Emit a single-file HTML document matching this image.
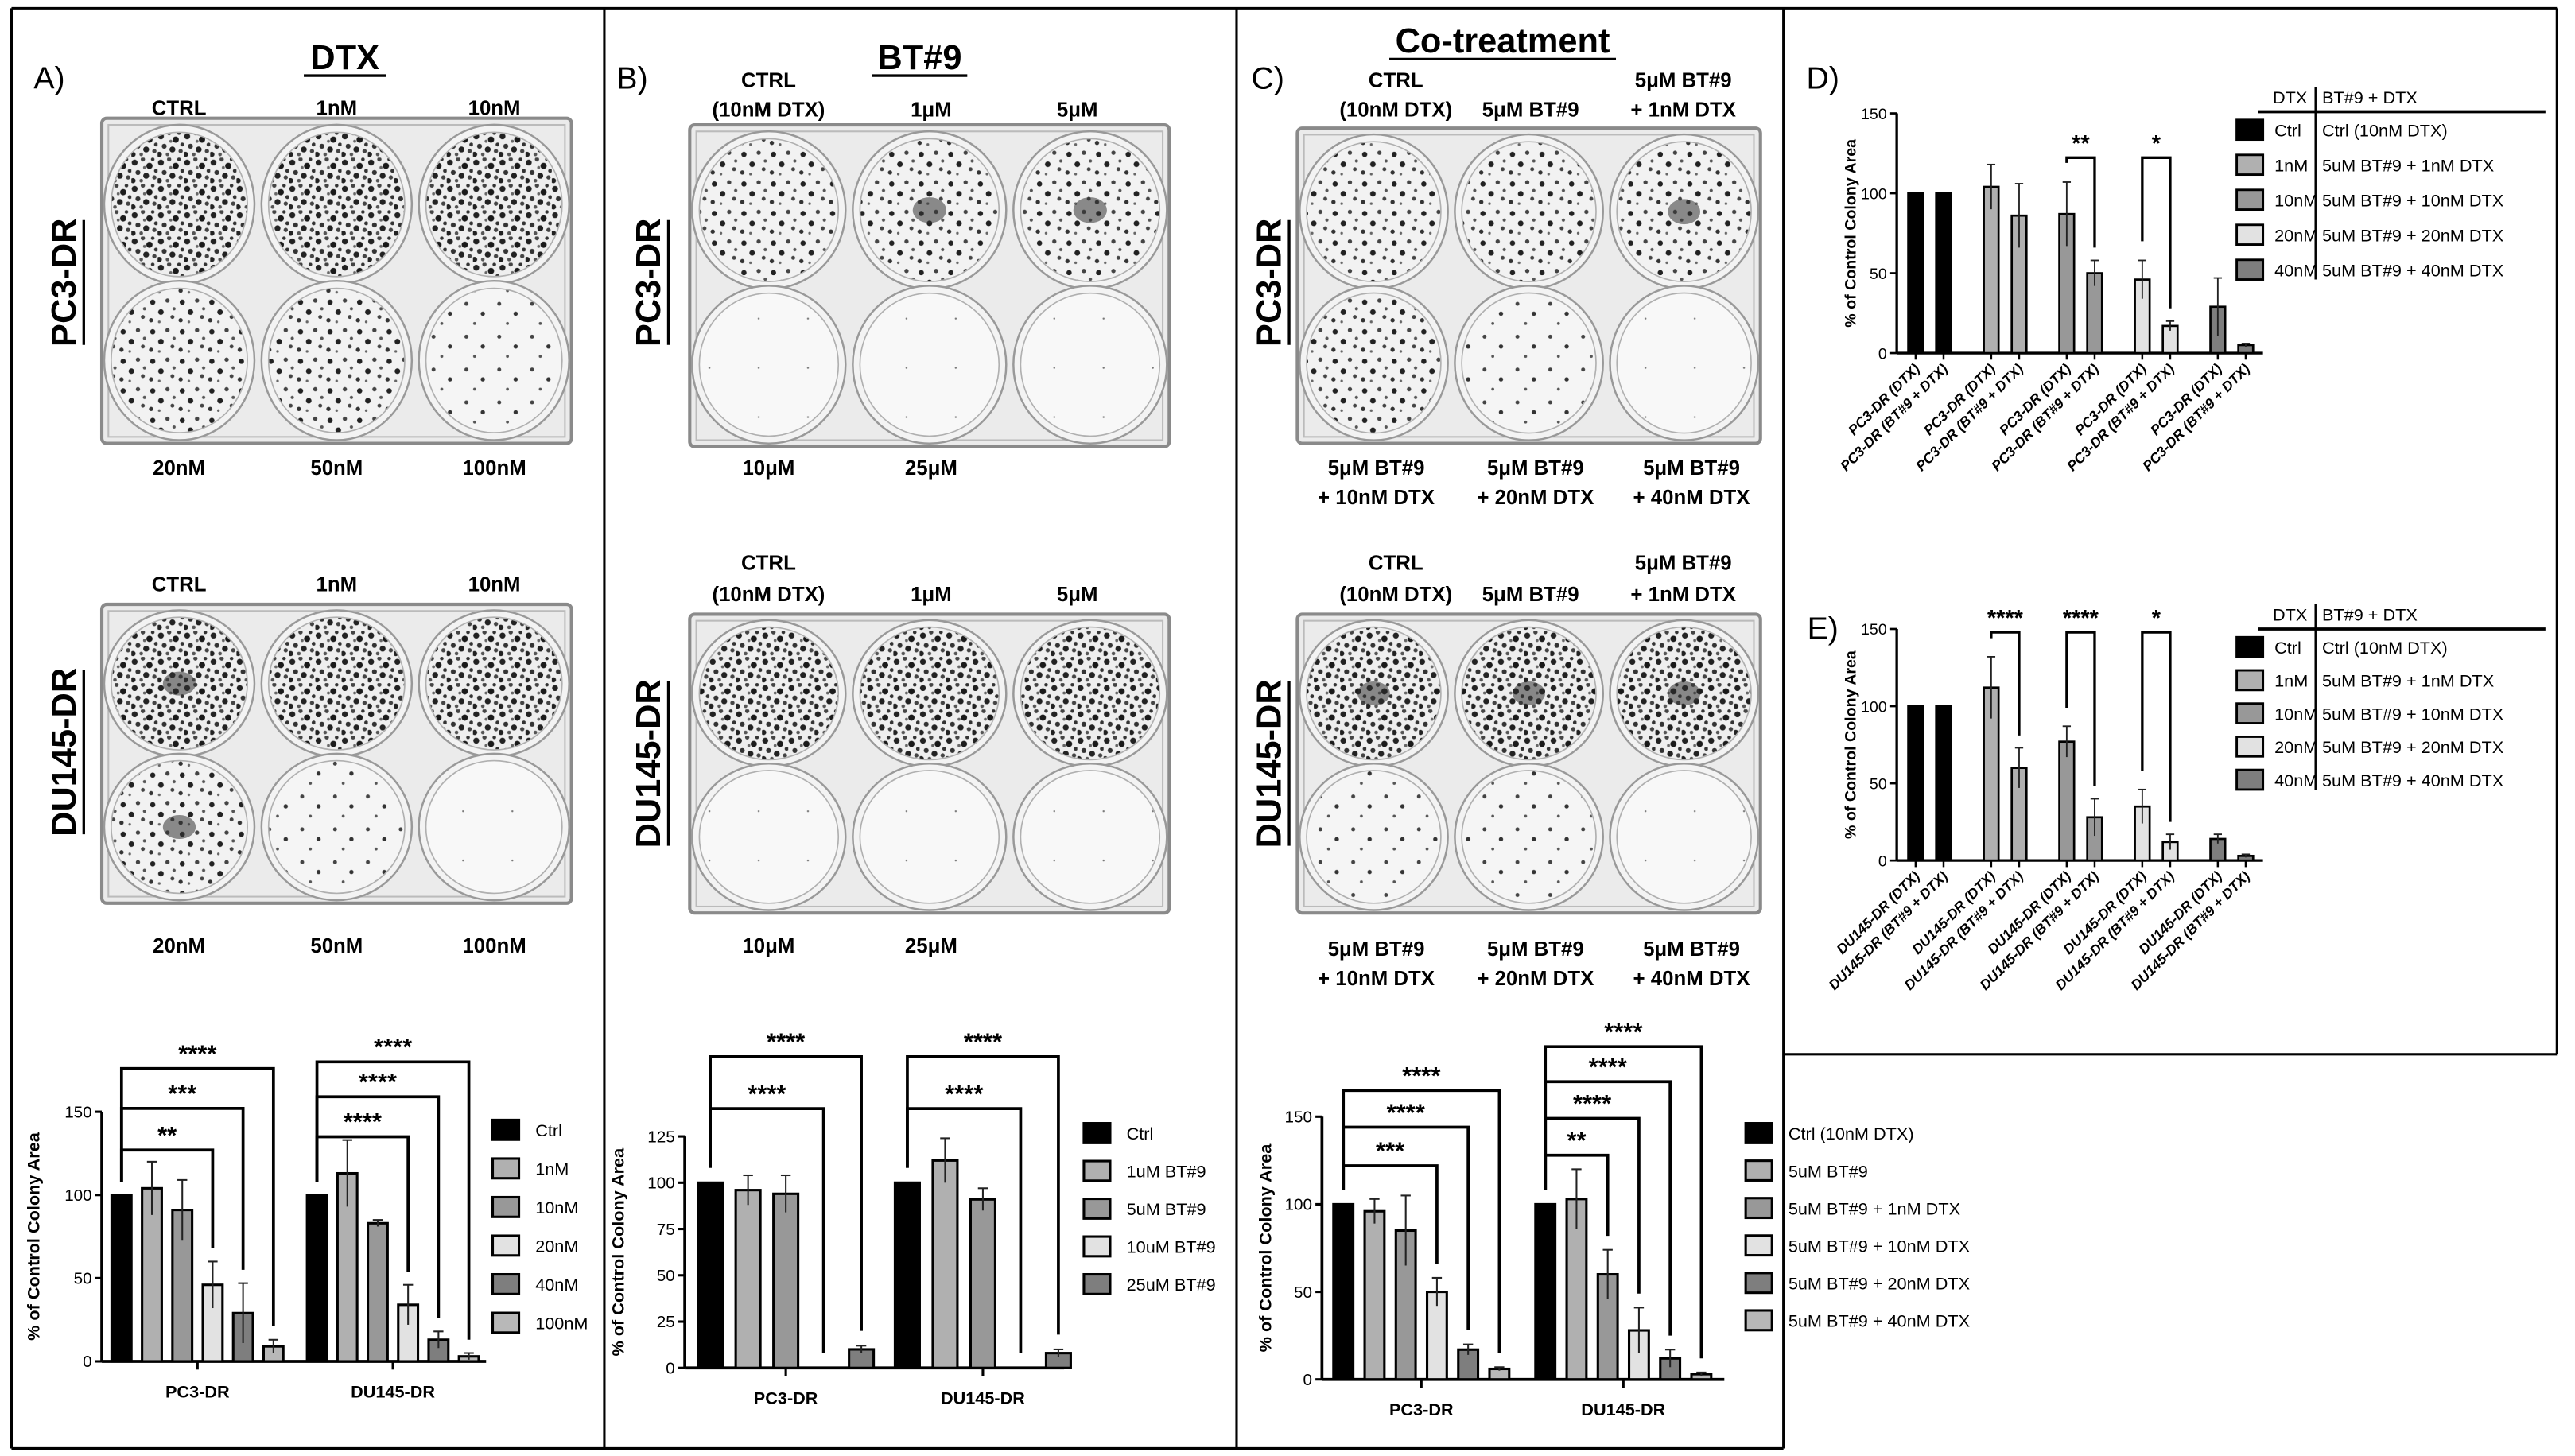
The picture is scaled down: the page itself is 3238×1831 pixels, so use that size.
<!DOCTYPE html>
<html><head><meta charset="utf-8"><style>
html,body{margin:0;padding:0;background:#fff;}
svg{display:block;font-family:"Liberation Sans",Arial,sans-serif;}
</style></head><body>
<svg id="fig" xmlns="http://www.w3.org/2000/svg" width="3238" height="1831" viewBox="0 0 1568 886.6">
<defs>
<pattern id="d3" width="16" height="16" patternUnits="userSpaceOnUse"><rect width="16" height="16" fill="#eeeeee"/><circle cx="2" cy="3" r="1.8" fill="#222"/><circle cx="7" cy="1" r="1.3" fill="#444"/><circle cx="11" cy="5" r="1.9" fill="#1a1a1a"/><circle cx="4" cy="9" r="1.5" fill="#333"/><circle cx="9" cy="11" r="1.8" fill="#222"/><circle cx="14" cy="12" r="1.3" fill="#444"/><circle cx="13" cy="1" r="1.1" fill="#333"/><circle cx="1" cy="14" r="1.6" fill="#222"/><circle cx="6" cy="14" r="1.1" fill="#555"/><circle cx="15" cy="8" r="1.2" fill="#333"/><circle cx="8" cy="6" r="0.9" fill="#666"/></pattern>
<pattern id="d2" width="18" height="18" patternUnits="userSpaceOnUse"><rect width="18" height="18" fill="#f2f2f2"/><circle cx="3" cy="4" r="1.6" fill="#222"/><circle cx="12" cy="3" r="1.3" fill="#444"/><circle cx="8" cy="10" r="1.7" fill="#222"/><circle cx="15" cy="13" r="1.2" fill="#444"/><circle cx="2" cy="15" r="1.3" fill="#333"/><circle cx="16" cy="8" r="1" fill="#555"/><circle cx="7" cy="16" r="0.8" fill="#666"/></pattern>
<pattern id="d1" width="20" height="20" patternUnits="userSpaceOnUse"><rect width="20" height="20" fill="#f5f5f5"/><circle cx="4" cy="5" r="1.2" fill="#444"/><circle cx="14" cy="11" r="1.3" fill="#333"/><circle cx="9" cy="17" r="0.9" fill="#555"/></pattern>
<pattern id="d0" width="30" height="30" patternUnits="userSpaceOnUse"><rect width="30" height="30" fill="#f8f8f8"/><circle cx="12" cy="14" r="0.6" fill="#777"/></pattern>
</defs>
<g id="frame" stroke="#000" stroke-width="1.5" fill="none">
<line x1="7" y1="5" x2="1557" y2="5"/><line x1="7" y1="5" x2="7" y2="882"/><line x1="7" y1="882" x2="1086" y2="882"/>
<line x1="368" y1="5" x2="368" y2="882"/><line x1="753" y1="5" x2="753" y2="882"/><line x1="1086" y1="5" x2="1086" y2="882"/>
<line x1="1557" y1="5" x2="1557" y2="642"/><line x1="1086" y1="642" x2="1557" y2="642"/>
</g>
<g id="static"></g>
<g id="charts"></g>
</svg>
<script>
// ---------- Chart data ----------
const aGroups = ["PC3-DR","DU145-DR"];
const aSeries = ["Ctrl","1nM","10nM","20nM","40nM","100nM"];
const aValues = [[100,104,91,46,29,9],[100,113,83,34,13,3]];
const aErrors = [[0,16,18,14,18,4],[0,20,2,12,5,2]];
const aTicks = [0,50,100,150];
const aSig = [[0,3,127,"**"],[0,4,152,"***"],[0,5,176,"****"],[1,3,135,"****"],[1,4,159,"****"],[1,5,180,"****"]];

const bGroups = ["PC3-DR","DU145-DR"];
const bSeries = ["Ctrl","1uM BT#9","5uM BT#9","10uM BT#9","25uM BT#9"];
const bValues = [[100,96,94,0,10],[100,112,91,0,8]];
const bErrors = [[0,8,10,0,2],[0,12,6,0,2]];
const bTicks = [0,25,50,75,100,125];
const bSig = [[0,3,140,"****"],[0,4,168,"****"],[1,3,140,"****"],[1,4,168,"****"]];

const cGroups = ["PC3-DR","DU145-DR"];
const cSeries = ["Ctrl (10nM DTX)","5uM BT#9","5uM BT#9 + 1nM DTX","5uM BT#9 + 10nM DTX","5uM BT#9 + 20nM DTX","5uM BT#9 + 40nM DTX"];
const cValues = [[100,96,85,50,17,6],[100,103,60,28,12,3]];
const cErrors = [[0,7,20,8,3,1],[0,17,14,13,5,1]];
const cTicks = [0,50,100,150];
const cSig = [[0,3,122,"***"],[0,4,144,"****"],[0,5,165,"****"],[1,2,128,"**"],[1,3,149,"****"],[1,4,170,"****"],[1,5,190,"****"]];

const dCats = ["Ctrl","1nM","10nM","20nM","40nM"];
const dCombo = ["Ctrl (10nM DTX)","5uM BT#9 + 1nM DTX","5uM BT#9 + 10nM DTX","5uM BT#9 + 20nM DTX","5uM BT#9 + 40nM DTX"];
const dDtx = [100,104,87,46,29];
const dDtxErr = [0,14,20,12,18];
const dBt = [100,86,50,17,5];
const dBtErr = [0,20,8,3,1];
const dSig = [[2,"**"],[3,"*"]];

const eDtx = [100,112,77,35,14];
const eDtxErr = [0,20,10,11,3];
const eBt = [100,60,28,12,3];
const eBtErr = [0,13,12,5,1];
const eSig = [[1,"****"],[2,"****"],[3,"*"]];

const fills6 = ["#000","#b0b0b0","#989898","#e2e2e2","#7e7e7e","#b8b8b8"];
const fillsB = ["#000","#b0b0b0","#989898","#e2e2e2","#7e7e7e"];

const NS="http://www.w3.org/2000/svg";
function mk(parent,tag,attrs,txt){const e=document.createElementNS(NS,tag);for(const k in attrs)e.setAttribute(k,attrs[k]);if(txt!==undefined)e.textContent=txt;parent.appendChild(e);return e;}
const S=document.getElementById('static');
const C=document.getElementById('charts');

// ---------- static text ----------
function label(x,y,t,size,name,extra){const e=mk(S,'text',Object.assign({x:x,y:y,'font-size':size,'font-weight':'bold','text-anchor':'middle'},extra||{}),t);

return e;}
label(30,54,"A)",19,"panel-a-letter",{'font-weight':'normal'});
label(385,54,"B)",19,"panel-b-letter",{'font-weight':'normal'});
label(772,54,"C)",19,"panel-c-letter",{'font-weight':'normal'});
label(1110,54,"D)",19,"panel-d-letter",{'font-weight':'normal'});
label(1110,389,"E)",19,"panel-e-letter",{'font-weight':'normal'});
function title(x,y,t,w,name){label(x,y,t,21,name);mk(S,'line',{x1:x-w/2,y1:y+4,x2:x+w/2,y2:y+4,stroke:'#000','stroke-width':1.6});}
title(210,42,"DTX",50,"panel-a-title");
title(560,42,"BT#9",58,"panel-b-title");
title(915,32,"Co-treatment",138,"panel-c-title");
function vlabel(x,cy,t,w,name){label(x,cy,t,21,name,{transform:`rotate(-90 ${x} ${cy})`});mk(S,'line',{x1:x+5,y1:cy-w/2,x2:x+5,y2:cy+w/2,stroke:'#000','stroke-width':1.6});}
vlabel(46,172,"PC3-DR",76,"pc3-label-a");vlabel(46,458,"DU145-DR",100,"du145-label-a");
vlabel(402,172,"PC3-DR",76,"pc3-label-b");vlabel(402,465,"DU145-DR",100,"du145-label-b");
vlabel(780,172,"PC3-DR",76,"pc3-label-c");vlabel(780,465,"DU145-DR",100,"du145-label-c");

// ---------- plates ----------
function plate(x,y,w,h,dens,name,blobs){
 const g=mk(S,'g',{});
 
 
 mk(g,'rect',{x:x,y:y,width:w,height:h,fill:'#ebebeb',stroke:'#8a8a8a','stroke-width':2,rx:3});
 mk(g,'rect',{x:x+4,y:y+4,width:w-8,height:h-8,fill:'none',stroke:'#bbb','stroke-width':1});
 const cx=[0.165,0.5,0.835],cy=[0.265,0.745];
 let k=0;
 for(let r=0;r<2;r++)for(let c=0;c<3;c++){
  const X=x+w*cx[c],Y=y+h*cy[r];
  mk(g,'ellipse',{cx:X,cy:Y,rx:w*0.16,ry:h*0.245,fill:'#f3f3f3',stroke:'#999','stroke-width':1.2});
  mk(g,'ellipse',{cx:X,cy:Y,rx:w*0.145,ry:h*0.222,fill:'url(#d'+dens[k]+')',stroke:'#b0b0b0','stroke-width':0.8});
  if(blobs&&blobs[k]){mk(g,'ellipse',{cx:X,cy:Y,rx:w*0.035,ry:h*0.04,fill:'#333',opacity:0.55});}
  k++;
 }
}
plate(62,72,286,198,[3,3,3,2,2,1],"plate-a-pc3");
plate(62,368,286,182,[3,3,3,2,1,0],"plate-a-du145",[1,0,0,1,0,0]);
plate(420,76,292,196,[2,2,2,0,0,0],"plate-b-pc3",[0,1,1,0,0,0]);
plate(420,374,292,182,[3,3,3,0,0,0],"plate-b-du145");
plate(790,78,282,192,[2,2,2,2,1,0],"plate-c-pc3",[0,0,1,0,0,0]);
plate(790,374,282,182,[3,3,3,1,1,0],"plate-c-du145",[1,1,1,0,0,0]);

function plab(xs,ys,rows,name){rows.forEach((row,ri)=>row.forEach((t,i)=>{if(t)label(xs[i],ys[ri],t,12.5,name+"-"+ri+"-"+i);}));}
const ax=[109,205,301];
plab(ax,[70],[["CTRL","1nM","10nM"]],"plate-a-pc3-top");
plab(ax,[289],[["20nM","50nM","100nM"]],"plate-a-pc3-bottom");
plab(ax,[360],[["CTRL","1nM","10nM"]],"plate-a-du145-top");
plab(ax,[580],[["20nM","50nM","100nM"]],"plate-a-du145-bottom");
const bx=[468,567,656];
plab(bx,[53,71],[["CTRL","",""],["(10nM DTX)","1μM","5μM"]],"plate-b-pc3-top");
plab(bx,[289],[["10μM","25μM",""]],"plate-b-pc3-bottom");
plab(bx,[347,366],[["CTRL","",""],["(10nM DTX)","1μM","5μM"]],"plate-b-du145-top");
plab(bx,[580],[["10μM","25μM",""]],"plate-b-du145-bottom");
const cxs=[850,932,1025];
plab(cxs,[53,71],[["CTRL","","5μM BT#9"],["(10nM DTX)","5μM BT#9","+ 1nM DTX"]],"plate-c-pc3-top");
plab([838,935,1030],[289,307],[["5μM BT#9","5μM BT#9","5μM BT#9"],["+ 10nM DTX","+ 20nM DTX","+ 40nM DTX"]],"plate-c-pc3-bottom");
plab(cxs,[347,366],[["CTRL","","5μM BT#9"],["(10nM DTX)","5μM BT#9","+ 1nM DTX"]],"plate-c-du145-top");
plab([838,935,1030],[582,600],[["5μM BT#9","5μM BT#9","5μM BT#9"],["+ 10nM DTX","+ 20nM DTX","+ 40nM DTX"]],"plate-c-du145-bottom");

// ---------- grouped bar chart ----------
function grouped(cfg){
 const g=mk(C,'g',{});
 
 
 const y=v=>cfg.y0-(v/cfg.ymax)*(cfg.y0-cfg.ytop);
 const bxf=(gi,si)=>cfg.gx0+gi*cfg.gstep+si*cfg.pitch;
 mk(g,'line',{x1:cfg.ax,y1:y(0),x2:cfg.xend,y2:y(0),stroke:'#000','stroke-width':1.8});
 mk(g,'line',{x1:cfg.ax,y1:y(0),x2:cfg.ax,y2:y(cfg.ticks[cfg.ticks.length-1]),stroke:'#000','stroke-width':1.8});
 cfg.ticks.forEach(t=>{mk(g,'line',{x1:cfg.ax-4,y1:y(t),x2:cfg.ax,y2:y(t),stroke:'#000','stroke-width':1.5});
  const tl=mk(g,'text',{x:cfg.ax-6,y:y(t)+3.5,'font-size':10,'text-anchor':'end'},t);
  
  });
 const yt=mk(g,'text',{x:cfg.titleX,y:(y(0)+y(cfg.ticks[cfg.ticks.length-1]))/2,'font-size':10.5,'font-weight':'bold','text-anchor':'middle',transform:`rotate(-90 ${cfg.titleX} ${(y(0)+y(cfg.ticks[cfg.ticks.length-1]))/2})`},"% of Control Colony Area");
 
 
 cfg.groups.forEach((gn,gi)=>{
  const n=cfg.values[gi].length;
  const mid=(bxf(gi,0)+bxf(gi,n-1)+cfg.bw)/2;
  mk(g,'line',{x1:mid,y1:y(0),x2:mid,y2:y(0)+5,stroke:'#000','stroke-width':1.5});
  const gl=mk(g,'text',{x:mid,y:y(0)+22,'font-size':10.5,'font-weight':'bold','text-anchor':'middle'},gn);
  
  
  cfg.values[gi].forEach((v,si)=>{
   const x=bxf(gi,si);
   const r=mk(g,'rect',{x:x,y:y(v),width:cfg.bw,height:y(0)-y(v),fill:cfg.fills[si],stroke:'#000','stroke-width':1.5});
   
   
   const e=cfg.errors[gi][si];
   if(e>0){const cx=x+cfg.bw/2;
    mk(g,'line',{x1:cx,y1:y(v-e),x2:cx,y2:y(v+e),stroke:'#222','stroke-width':1});
    mk(g,'line',{x1:cx-3,y1:y(v+e),x2:cx+3,y2:y(v+e),stroke:'#222','stroke-width':1});}
  });
 });
 cfg.sig.forEach(s=>{const [gi,to,h,t]=s;
  const x1=bxf(gi,0)+cfg.bw/2,x2=bxf(gi,to)+cfg.bw/2;
  const v=cfg.values[gi][to]+cfg.errors[gi][to];
  mk(g,'polyline',{points:`${x1},${y(108)} ${x1},${y(h)} ${x2},${y(h)} ${x2},${y(v+8)}`,fill:'none',stroke:'#000','stroke-width':1.8});
  const st=mk(g,'text',{x:(x1+x2)/2,y:y(h)-4,'font-size':15,'font-weight':'bold','text-anchor':'middle'},t);
  
  
 });
 cfg.series.forEach((sn,si)=>{const ly=cfg.legY+si*cfg.legStep;
  const lr=mk(g,'rect',{x:cfg.legX,y:ly-6,width:16,height:12,fill:cfg.fills[si],stroke:'#000','stroke-width':1.5});
  
  
  const lt=mk(g,'text',{x:cfg.legX+26,y:ly+4,'font-size':10.5},sn);
  
  
 });
}
grouped({name:"chart-a",groups:aGroups,series:aSeries,values:aValues,errors:aErrors,ticks:aTicks,sig:aSig,fills:fills6,
 ax:62,y0:829,ytop:677,ymax:150,xend:296,gx0:68,gstep:119,pitch:18.5,bw:12,titleX:24,legX:300,legY:688,legStep:23.5});
grouped({name:"chart-b",groups:bGroups,series:bSeries,values:bValues,errors:bErrors,ticks:bTicks,sig:bSig,fills:fillsB,
 ax:417,y0:833,ytop:692,ymax:125,xend:648,gx0:425,gstep:120,pitch:23,bw:15,titleX:380,legX:660,legY:690,legStep:23});
grouped({name:"chart-c",groups:cGroups,series:cSeries,values:cValues,errors:cErrors,ticks:cTicks,sig:cSig,fills:fills6,
 ax:805,y0:840,ytop:680,ymax:150,xend:1050,gx0:812,gstep:123,pitch:19,bw:12,titleX:774,legX:1063,legY:690,legStep:22.8});

// ---------- paired charts D/E ----------
function paired(cfg){
 const g=mk(C,'g',{});
 
 
 const y=v=>cfg.y0-(v/150)*(cfg.y0-cfg.ytop);
 const px=(i,j)=>cfg.gx0+i*cfg.gstep+j*cfg.inner;
 mk(g,'line',{x1:cfg.ax,y1:y(0),x2:cfg.xend,y2:y(0),stroke:'#000','stroke-width':1.6});
 mk(g,'line',{x1:cfg.ax,y1:y(0),x2:cfg.ax,y2:y(150),stroke:'#000','stroke-width':1.6});
 [0,50,100,150].forEach(t=>{mk(g,'line',{x1:cfg.ax-4,y1:y(t),x2:cfg.ax,y2:y(t),stroke:'#000','stroke-width':1.3});
  const tl=mk(g,'text',{x:cfg.ax-6,y:y(t)+3.5,'font-size':9.5,'text-anchor':'end'},t);
  
  });
 const my=(y(0)+y(150))/2;
 const yt=mk(g,'text',{x:1130,y:my,'font-size':9.5,'font-weight':'bold','text-anchor':'middle',transform:`rotate(-90 1130 ${my})`},"% of Control Colony Area");
 
 
 const sets=[[cfg.dtx,cfg.dtxErr,"(DTX)"],[cfg.bt,cfg.btErr,"(BT#9 + DTX)"]];
 dCats.forEach((c,i)=>{sets.forEach((s,j)=>{
  const v=s[0][i],e=s[1][i],x=px(i,j),cx=x+cfg.bw/2;
  const r=mk(g,'rect',{x:x,y:y(v),width:cfg.bw,height:y(0)-y(v),fill:fills6[i],stroke:'#000','stroke-width':1.3});
  
  
  if(e>0){mk(g,'line',{x1:cx,y1:y(v-e),x2:cx,y2:y(v+e),stroke:'#222','stroke-width':0.9});
   mk(g,'line',{x1:cx-2.5,y1:y(v+e),x2:cx+2.5,y2:y(v+e),stroke:'#222','stroke-width':0.9});}
  mk(g,'line',{x1:cx,y1:y(0),x2:cx,y2:y(0)+4,stroke:'#000','stroke-width':1.2});
  const lx=cx+3,ly=y(0)+10;
  const tl=mk(g,'text',{x:lx,y:ly,'font-size':8.6,'font-weight':'bold','font-style':'italic','text-anchor':'end',transform:`rotate(-45 ${lx} ${ly})`},cfg.cell+" "+s[2]);
  
  
 });});
 cfg.sig.forEach(s=>{const i=s[0];const x1=px(i,0)+cfg.bw/2,x2=px(i,1)+cfg.bw/2;
  const top=cfg.sigTop;
  mk(g,'polyline',{points:`${x1},${y(cfg.dtx[i]+cfg.dtxErr[i]+12)} ${x1},${top} ${x2},${top} ${x2},${y(cfg.bt[i]+cfg.btErr[i]+8)}`,fill:'none',stroke:'#000','stroke-width':1.6});
  const st=mk(g,'text',{x:(x1+x2)/2,y:top-4,'font-size':14,'font-weight':'bold','text-anchor':'middle'},s[1]);
  
  
 });
 const L=cfg.legY;
 const h1=mk(g,'text',{x:1405,y:L,'font-size':10.5,'text-anchor':'end'},"DTX");
 
 
 const h2=mk(g,'text',{x:1414,y:L,'font-size':10.5},"BT#9 + DTX");
 
 
 mk(g,'line',{x1:1375,y1:L+5,x2:1550,y2:L+5,stroke:'#000','stroke-width':1.8});
 mk(g,'line',{x1:1410,y1:L-10,x2:1410,y2:L+cfg.legStep*4+22,stroke:'#000','stroke-width':1.2});
 dCats.forEach((c,i)=>{const ly=L+16+i*cfg.legStep;
  const lr=mk(g,'rect',{x:1362,y:ly-6,width:16,height:12,fill:fills6[i],stroke:'#000','stroke-width':1.4});
  
  
  const t1=mk(g,'text',{x:1385,y:ly+4,'font-size':10.5},c);
  
  
  const t2=mk(g,'text',{x:1414,y:ly+4,'font-size':10.5},dCombo[i]);
  
  
 });
}
paired({name:"chart-d",cell:"PC3-DR",dtx:dDtx,dtxErr:dDtxErr,bt:dBt,btErr:dBtErr,sig:dSig,
 ax:1155,y0:215,ytop:69,xend:1378,gx0:1162,gstep:46,inner:17,bw:9,sigTop:96,legY:63,legStep:21.3});
paired({name:"chart-e",cell:"DU145-DR",dtx:eDtx,dtxErr:eDtxErr,bt:eBt,btErr:eBtErr,sig:eSig,
 ax:1155,y0:524,ytop:383,xend:1378,gx0:1162,gstep:46,inner:17,bw:9,sigTop:385,legY:378,legStep:20.2});
</script>
</body></html>
